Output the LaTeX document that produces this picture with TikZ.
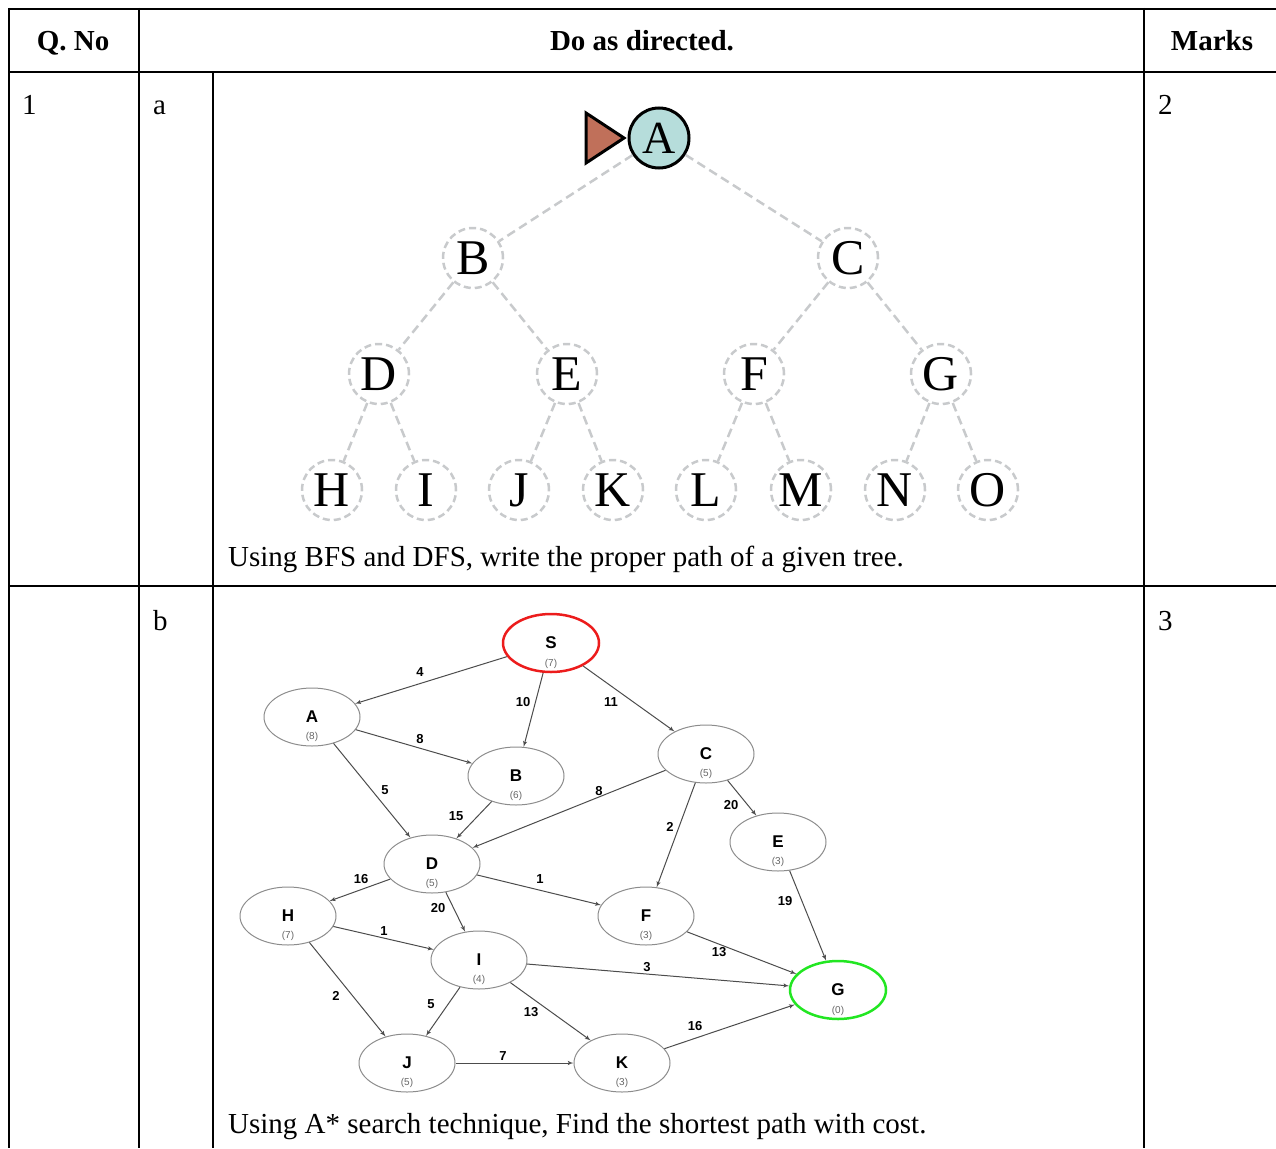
\documentclass[tikz,border=0pt]{standalone}
\usepackage{fontspec}
\setmainfont{Liberation Serif}
\newfontfamily\graphfont{Liberation Sans}
\usetikzlibrary{shapes, arrows}
\definecolor{treegray}{RGB}{200,202,204}
\definecolor{rootfill}{RGB}{182,221,219}
\definecolor{pointer}{RGB}{192,112,90}
\definecolor{startred}{RGB}{236,28,28}
\definecolor{goalgreen}{RGB}{34,230,34}
\tikzstyle{grid} = [line width=2pt, black]
\tikzstyle{cell} = [anchor=base west, inner sep=0pt, font=\fontsize{29}{34}\selectfont]
\tikzstyle{head} = [anchor=base, inner sep=0pt, font=\fontsize{29}{34}\selectfont\bfseries]
\tikzstyle{tnode} = [circle, draw=treegray, line width=2.5pt, dash pattern=on 7pt off 4pt, minimum size=60pt, inner sep=0pt, font=\fontsize{50}{50}\selectfont]
\tikzstyle{root} = [circle, draw=black, fill=rootfill, line width=3pt, minimum size=60pt, inner sep=0pt, font=\fontsize{46}{46}\selectfont]
\tikzstyle{tline} = [draw=treegray, line width=2.5pt, dash pattern=on 9pt off 5pt]
\tikzstyle{gnode} = [ellipse, draw=black!45, line width=1pt, minimum width=96pt, minimum height=58pt, inner sep=0pt, font=\graphfont\fontsize{17}{17}\selectfont\bfseries]
\tikzstyle{heur} = [text=black!60, yshift=18pt, font=\graphfont\fontsize{10}{10}\selectfont]
\tikzstyle{arc} = [draw=black!70, line width=1pt, -latex']
\tikzstyle{wt} = [font=\graphfont\fontsize{13}{13}\selectfont\bfseries, inner sep=0pt]

\begin{document}
\begin{tikzpicture}[x=1pt, y=-1pt]
    \useasboundingbox (0,0) rectangle (1276,1148);

    % table
    \draw[grid] (8,9) -- (1276,9);
    \draw[grid] (8,72) -- (1276,72);
    \draw[grid] (8,586) -- (1276,586);
    \draw[grid] (9,8) -- (9,1148);
    \draw[grid] (139,8) -- (139,1148);
    \draw[grid] (213,72) -- (213,1148);
    \draw[grid] (1144,8) -- (1144,1148);

    \node[head] (hq) at (73,51) {Q. No};
    \node[head] (hd) at (642,51) {Do as directed.};
    \node[head] (hm) at (1212,51) {Marks};
    \node[cell] (q1) at (22,114) {1};
    \node[cell] (pa) at (153,114) {a};
    \node[cell] (m2) at (1158,114) {2};
    \node[cell] (pb) at (153,630) {b};
    \node[cell] (m3) at (1158,630) {3};
    \node[cell] (qa) at (228,566) {Using BFS and DFS, write the proper path of a given tree.};
    \node[cell] (qb) at (228,1133) {Using A* search technique, Find the shortest path with cost.};

    % tree
    \node[root] (A) at (659,138) {A};
    \node[tnode] (B) at (473,258) {B};
    \node[tnode] (C) at (848,258) {C};
    \node[tnode] (D) at (379,374) {D};
    \node[tnode] (E) at (567,374) {E};
    \node[tnode] (F) at (754,374) {F};
    \node[tnode] (G) at (941,374) {G};
    \node[tnode] (H) at (332,490) {H};
    \node[tnode] (I) at (426,490) {I};
    \node[tnode] (J) at (519,490) {J};
    \node[tnode] (K) at (613,490) {K};
    \node[tnode] (L) at (706,490) {L};
    \node[tnode] (M) at (801,490) {M};
    \node[tnode] (N) at (895,490) {N};
    \node[tnode] (O) at (988,490) {O};
    \foreach \a/\b in {A/B, A/C, B/D, B/E, C/F, C/G, D/H, D/I, E/J, E/K, F/L, F/M, G/N, G/O}
        \path[tline] (\a) -- (\b);
    \filldraw[fill=pointer, draw=black, line width=3pt, line join=miter] (586,113) -- (586,163) -- (624,138) -- cycle;

    % graph
    \node[gnode, draw=startred, line width=2.5pt, label={[heur]below:(7)}] (gS) at (551,643) {S};
    \node[gnode, label={[heur]below:(8)}] (gA) at (312,717) {A};
    \node[gnode, label={[heur]below:(6)}] (gB) at (516,776) {B};
    \node[gnode, label={[heur]below:(5)}] (gC) at (706,754) {C};
    \node[gnode, label={[heur]below:(5)}] (gD) at (432,864) {D};
    \node[gnode, label={[heur]below:(3)}] (gE) at (778,842) {E};
    \node[gnode, label={[heur]below:(3)}] (gF) at (646,916) {F};
    \node[gnode, draw=goalgreen, line width=2.5pt, label={[heur]below:(0)}] (gG) at (838,990) {G};
    \node[gnode, label={[heur]below:(7)}] (gH) at (288,916) {H};
    \node[gnode, label={[heur]below:(4)}] (gI) at (479,960) {I};
    \node[gnode, label={[heur]below:(5)}] (gJ) at (407,1063) {J};
    \node[gnode, label={[heur]below:(3)}] (gK) at (622,1063) {K};

    \foreach \a/\b/\w/\lx/\ly in {S/A/4/420/672, S/B/10/523/702, S/C/11/611/702,
        A/B/8/420/739, A/D/5/385/790, B/D/15/456/816, C/D/8/599/791,
        C/F/2/670/827, C/E/20/731/805, D/H/16/361/879, D/I/20/438/908,
        D/F/1/540/879, H/I/1/384/931, H/J/2/336/996, I/J/5/431/1004,
        I/K/13/531/1012, I/G/3/647/967, F/G/13/719/952, E/G/19/785/901,
        J/K/7/503/1056, K/G/16/695/1026} {
        \path[arc] (g\a) -- (g\b);
        \node[wt] at (\lx,\ly) {\w};
    }
\end{tikzpicture}
\end{document}
